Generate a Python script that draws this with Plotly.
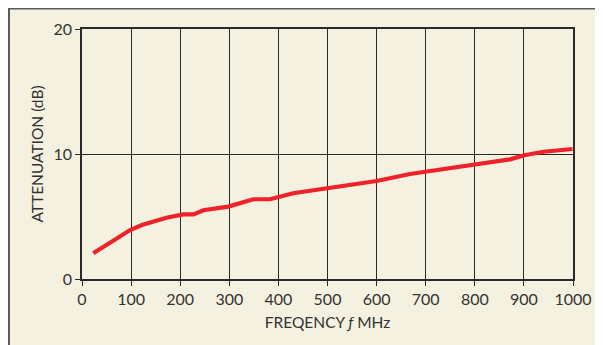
import plotly.graph_objects as go

freq_mhz = [23, 98, 122, 172, 206, 227, 247, 298, 349, 383, 430, 498, 600, 668, 700, 801, 872, 901, 940, 999]
attenuation_db = [2.06, 3.92, 4.32, 4.9, 5.17, 5.17, 5.5, 5.79, 6.38, 6.38, 6.86, 7.26, 7.84, 8.4, 8.58, 9.14, 9.57, 9.9, 10.18, 10.4]

x_ticks = [0, 100, 200, 300, 400, 500, 600, 700, 800, 900, 1000]
y_ticks = [0, 10, 20]

# page body has an 8px margin, so the figure starts at (8, 8)
W, H = 595, 337
L, R, T, B = 74, 30, 21, 66
pw, ph = W - L - R, H - T - B

def px_x(p):
    return (p - L) / pw

def px_y(p):
    return (H - B - p) / ph

fig = go.Figure()
fig.add_trace(go.Scatter(
    x=freq_mhz, y=attenuation_db, mode="lines",
    line=dict(color="#ee2228", width=4.2), showlegend=False, hoverinfo="skip"))

beige = "#f5f1e0"
ink = "#2a2a2a"
frame = "#5a5a5a"
fig.add_shape(type="line", xref="paper", yref="paper",
              x0=px_x(0), x1=px_x(W + 5), y0=px_y(0.5), y1=px_y(0.5),
              line=dict(color=frame, width=2), layer="below")
fig.add_shape(type="line", xref="paper", yref="paper",
              x0=px_x(1), x1=px_x(1), y0=px_y(0), y1=px_y(H + 5),
              line=dict(color=frame, width=2), layer="below")

axis_common = dict(showline=True, mirror=True, linecolor=ink, linewidth=1.5,
                   showgrid=True, gridcolor=ink, gridwidth=1.2,
                   ticks="outside", ticklen=5, tickcolor=ink, tickwidth=1.2,
                   zeroline=False, tickfont=dict(size=16, color="#333333"))

fig.update_xaxes(range=[0, 1000], tickvals=x_ticks, **axis_common,
                 title=dict(text="FREQENCY <i>ƒ</i> MHz", font=dict(size=15.5, color="#333333"), standoff=10))
fig.update_yaxes(range=[0, 20], tickvals=y_ticks, **axis_common,
                 title=dict(text="ATTENUATION (dB)", font=dict(size=15.5, color="#333333"), standoff=6))

fig.update_layout(
    width=W, height=H,
    margin=dict(l=L, r=R, t=T, b=B),
    paper_bgcolor=beige, plot_bgcolor="rgba(0,0,0,0)",
    font=dict(family="Lato, 'Noto Sans', sans-serif", color="#333333"),
)

fig.write_html("out.html")
